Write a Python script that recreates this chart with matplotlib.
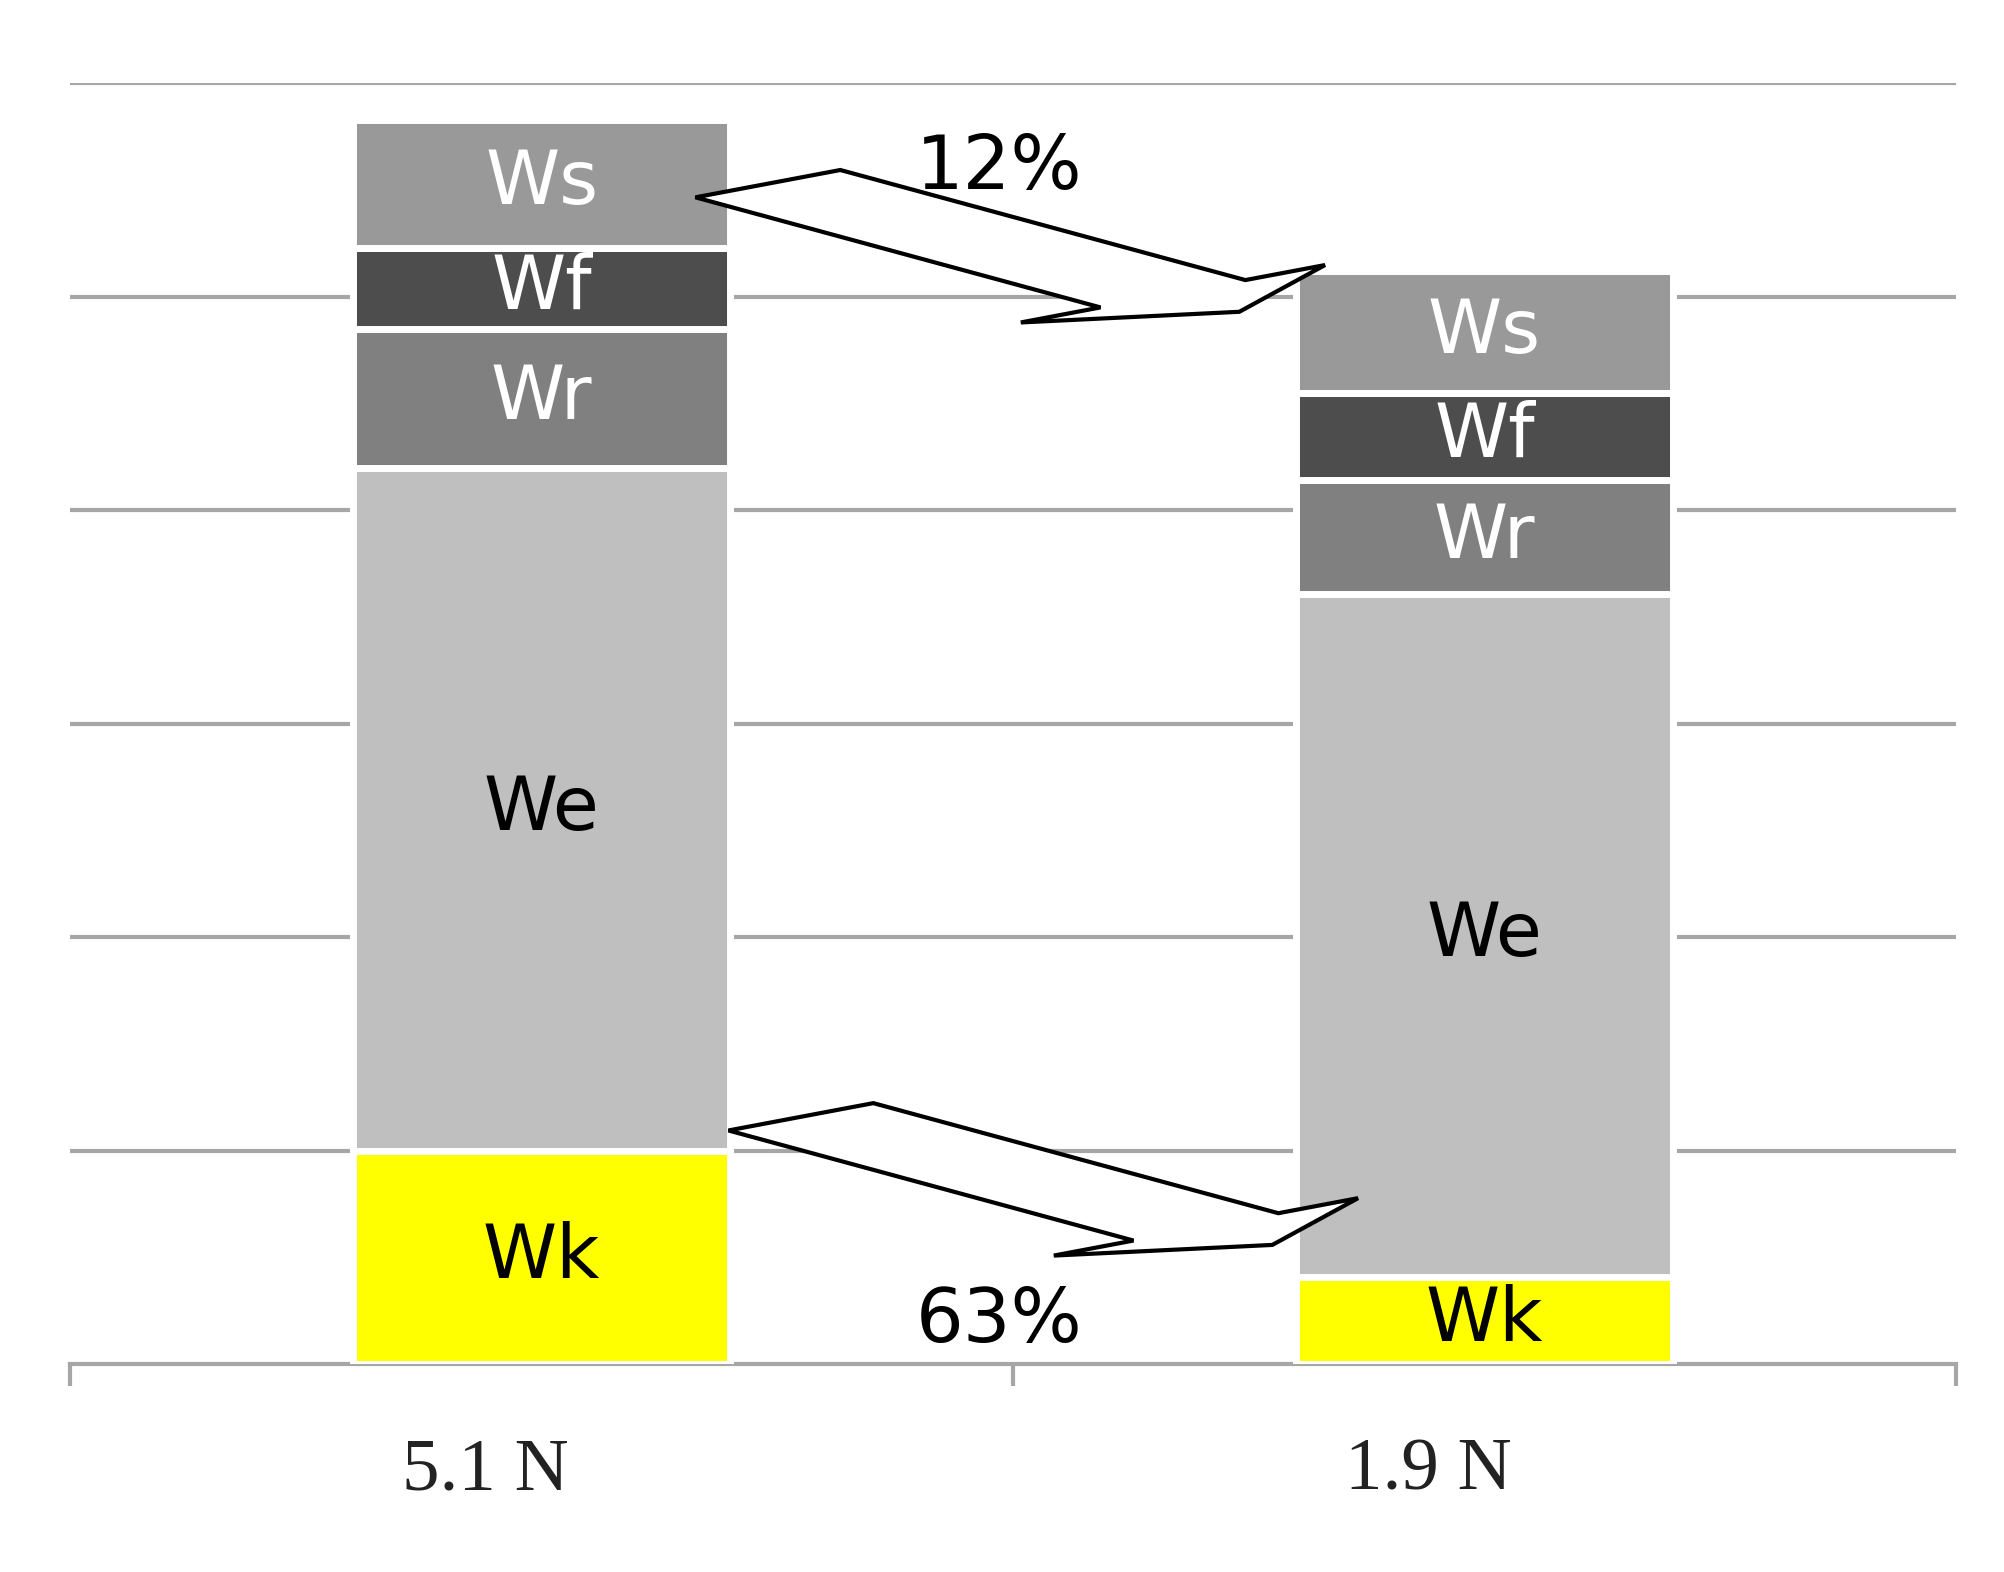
import matplotlib.pyplot as plt
from matplotlib.patches import FancyArrow

categories = ["5.1 N", "1.9 N"]
segments = ["Wk", "We", "Wr", "Wf", "Ws"]
values = {
    "Wk": [1.0, 0.41],
    "We": [3.2, 3.2],
    "Wr": [0.65, 0.53],
    "Wf": [0.38, 0.41],
    "Ws": [0.60, 0.57],
}
colors = {"Wk": "#ffff00", "We": "#bfbfbf", "Wr": "#808080", "Wf": "#4d4d4d", "Ws": "#999999"}
text_colors = {"Wk": "black", "We": "black", "Wr": "white", "Wf": "white", "Ws": "white"}
changes = ["12%", "63%"]

fig = plt.figure(figsize=(10.02, 7.86), dpi=200)
ax = fig.add_axes([0.035, 0.132, 0.941, 0.815])

x = [0, 1]
bottom = [0.0, 0.0]
for seg in segments:
    ax.bar(x, values[seg], bottom=bottom, width=0.4, color=colors[seg],
           edgecolor="white", linewidth=2.5, zorder=3)
    for i in x:
        ax.text(i, bottom[i] + values[seg][i] / 2, seg, ha="center", va="center",
                fontsize=27, color=text_colors[seg], family="DejaVu Sans", zorder=4)
    bottom = [bottom[i] + values[seg][i] for i in x]

ax.set_xlim(-0.5, 1.5)
ax.set_ylim(0, 6)
ax.set_yticks(range(1, 7))
ax.yaxis.grid(True, color="#a6a6a6", linewidth=1.5, zorder=0)
ax.tick_params(axis="y", length=0, labelleft=False)
ax.set_xticks([-0.5, 0.5, 1.5])
ax.set_xticklabels([])
ax.tick_params(axis="x", length=8, width=1.5, color="#a6a6a6", direction="out")
for s in ["top", "right", "left"]:
    ax.spines[s].set_visible(False)
ax.spines["bottom"].set_color("#a6a6a6")
ax.spines["bottom"].set_linewidth(1.5)

for i, c in enumerate(categories):
    ax.text(i - 0.06, -0.5, c, ha="center", va="center", fontsize=27,
            family="Liberation Serif", color="#222222")

# block arrows
for (x0, y0, x1, y1) in [(0.24, 5.53, 0.74, 4.93), (0.275, 1.16, 0.775, 0.56)]:
    ax.add_patch(FancyArrow(x0, y0, x1 - x0, y1 - y0, width=0.2, head_width=0.42,
                            head_length=0.11, length_includes_head=True,
                            facecolor="white", edgecolor="black", linewidth=1.5,
                            zorder=5))

ax.text(0.485, 5.6, changes[0], ha="center", va="center", fontsize=27, zorder=6)
ax.text(0.485, 0.2, changes[1], ha="center", va="center", fontsize=27, zorder=6)

fig.savefig("out.png")
